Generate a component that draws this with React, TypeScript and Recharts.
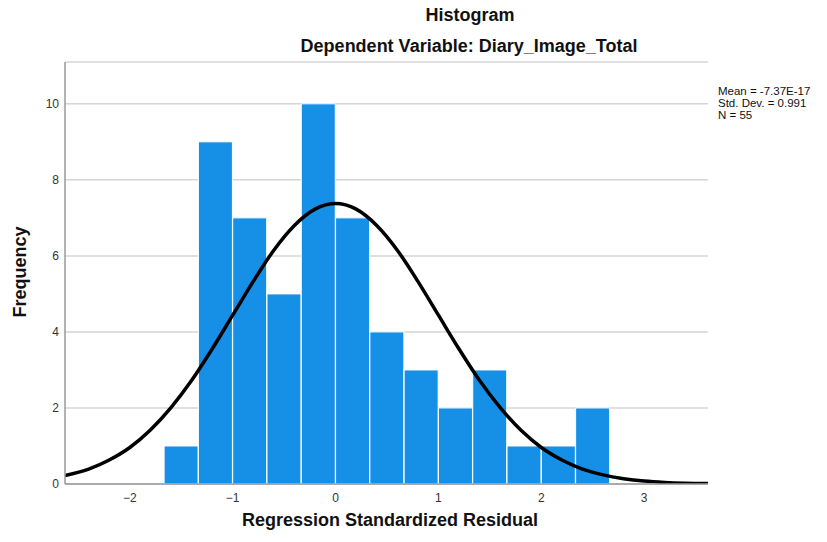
import React from 'react';
import { ComposedChart, Bar, Line, XAxis, YAxis, CartesianGrid } from 'recharts';

// Histogram bins (centers of 1/3-wide bins) and counts
const binCenters = [-1.5, -1.1667, -0.8333, -0.5, -0.1667, 0.1667, 0.5, 0.8333, 1.1667, 1.5, 1.8333, 2.1667, 2.5];
const binCounts = [1, 9, 7, 5, 10, 7, 4, 3, 2, 3, 1, 1, 2];

// Normal curve
const curveX = [-2.63, -2.4, -2.2, -2.0, -1.8, -1.6, -1.4, -1.2, -1.0, -0.8, -0.6, -0.4, -0.2, 0, 0.2, 0.4, 0.6, 0.8, 1.0, 1.2, 1.4, 1.6, 1.8, 2.0, 2.2, 2.4, 2.6, 2.8, 3.0, 3.2, 3.4, 3.62];
const curveY = [0.22, 0.39, 0.63, 0.96, 1.42, 2.01, 2.72, 3.55, 4.44, 5.33, 6.15, 6.8, 7.23, 7.38, 7.23, 6.8, 6.15, 5.33, 4.44, 3.55, 2.72, 2.01, 1.42, 0.96, 0.63, 0.39, 0.24, 0.14, 0.076, 0.04, 0.02, 0.01];

const xTicks = [-2, -1, 0, 1, 2, 3];
const yTicks = [0, 2, 4, 6, 8, 10];
const statLines = ['Mean = -7.37E-17', 'Std. Dev. = 0.991', 'N = 55'];

const histData = binCenters.map((x, i) => ({ x, count: binCounts[i] }));
const curveData = curveX.map((x, i) => ({ x, y: curveY[i] }));

const font = '"Liberation Sans", Arial, sans-serif';
const xDomain: [number, number] = [-2.63, 3.62];

const App: React.FC = () => {
  return (
    <div style={{ position: 'absolute', left: 0, top: 0, width: 827, height: 542, background: '#fff', fontFamily: font }}>
      <div style={{ position: 'absolute', left: 470, top: 6, transform: 'translateX(-50%)', fontSize: 18, lineHeight: '18px', fontWeight: 'bold', whiteSpace: 'nowrap', color: '#111' }}>
        Histogram
      </div>
      <div style={{ position: 'absolute', left: 469, top: 37, transform: 'translateX(-50%)', fontSize: 18, lineHeight: '18px', fontWeight: 'bold', whiteSpace: 'nowrap', color: '#111' }}>
        Dependent Variable: Diary_Image_Total
      </div>

      <ComposedChart
        width={827}
        height={542}
        data={histData}
        margin={{ top: 62, right: 119, bottom: 0, left: 0 }}
        barCategoryGap={0}
        barGap={0}
      >
        <CartesianGrid vertical={false} stroke="#d6d6d6" strokeWidth={1.5} />
        <XAxis
          xAxisId="bins"
          dataKey="x"
          type="number"
          domain={xDomain}
          allowDataOverflow
          ticks={xTicks}
          tickFormatter={(v: number) => String(v).replace('-', '\u2212')}
          tickLine={false}
          tickSize={6}
          tickMargin={3}
          axisLine={{ stroke: '#999', strokeWidth: 1.5 }}
          tick={{ fontSize: 12, fill: '#333', fontFamily: font }}
          height={58}
        />
        <XAxis xAxisId="curve" dataKey="x" type="number" domain={xDomain} allowDataOverflow hide />
        <YAxis
          type="number"
          domain={[0, 11.1]}
          allowDataOverflow
          ticks={yTicks}
          tickLine={false}
          tickSize={6}
          tickMargin={0}
          axisLine={{ stroke: '#999', strokeWidth: 1.5 }}
          tick={{ fontSize: 12, fill: '#333', fontFamily: font }}
          width={65}
        />
        <Bar xAxisId="bins" dataKey="count" fill="#1590e6" stroke="#ffffff" strokeWidth={1} isAnimationActive={false} />
        <Line
          xAxisId="curve"
          data={curveData}
          dataKey="y"
          type="monotone"
          stroke="#000"
          strokeWidth={3.5}
          dot={false}
          activeDot={false}
          isAnimationActive={false}
        />
      </ComposedChart>

      <div style={{ position: 'absolute', left: 718, top: 85, fontSize: 11.5, lineHeight: '12px', color: '#111', whiteSpace: 'nowrap' }}>
        {statLines.map((s) => (
          <div key={s}>{s}</div>
        ))}
      </div>

      <div style={{ position: 'absolute', left: 20, top: 272, transform: 'translate(-50%, -50%) rotate(-90deg)', fontSize: 18, lineHeight: '18px', fontWeight: 'bold', whiteSpace: 'nowrap', color: '#111' }}>
        Frequency
      </div>
      <div style={{ position: 'absolute', left: 390, top: 511, transform: 'translateX(-50%)', fontSize: 18, lineHeight: '18px', fontWeight: 'bold', whiteSpace: 'nowrap', color: '#111' }}>
        Regression Standardized Residual
      </div>
    </div>
  );
};

export default App;
